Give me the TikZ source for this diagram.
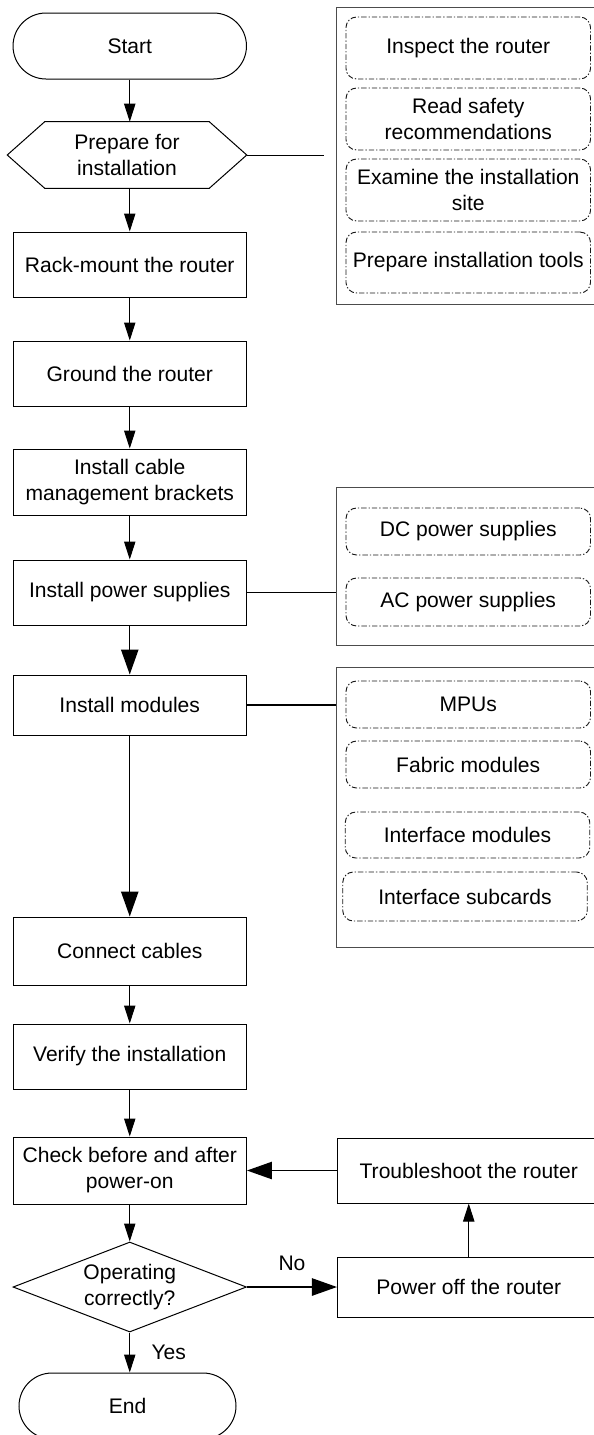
\documentclass[tikz,border=0pt]{standalone}
\usepackage{fontspec}
\setmainfont{Liberation Sans}
\usetikzlibrary{arrows.meta,shapes.geometric,shapes.misc}
\tikzset{
	every node/.style={font=\fontsize{15.8pt}{19.5pt}\selectfont, align=center, inner sep=0pt},
	stepbox/.style={draw, line width=0.75pt, minimum width=175.1pt, minimum height=48.75pt},
	sidebox/.style={draw, line width=0.75pt, minimum width=196.9pt, minimum height=48.75pt},
	termbox/.style={draw, line width=0.75pt, rounded rectangle, minimum width=175.1pt, minimum height=49.5pt},
	panel/.style={draw=black!70, line width=0.75pt, minimum width=198pt},
	subbox/.style={draw=black!90, dash pattern=on 4pt off 1.5pt on 1pt off 1.5pt, line width=0.7pt, rounded corners=8pt, minimum width=183.4pt, minimum height=46.5pt},
	arr/.style={line width=0.75pt, -{Triangle[length=13.5pt,width=8.5pt]}},
	bigarr/.style={line width=1.1pt, -{Triangle[length=18.75pt,width=13pt]}},
}
\begin{document}
\begin{tikzpicture}[x=0.75pt,y=-0.75pt]
	\useasboundingbox (0,0) rectangle (593,1435);
	% side panels
	\node[panel, minimum height=222.75pt] (pprep) at (468,155.5) {};
	\node[panel, minimum height=118.5pt] (ppower) at (468,566) {};
	\node[panel, minimum height=210pt] (pmod) at (468,807) {};
	\node[subbox] (inspect) at (468.25,48) {Inspect the router};
	\node[subbox] (safety) at (468.25,119) {Read safety\\recommendations};
	\node[subbox] (site) at (468.25,190) {Examine the installation\\site};
	\node[subbox, minimum height=45.75pt] (tools) at (468.25,262.5) {Prepare installation tools};
	\node[subbox, minimum height=35.25pt] (dcps) at (468.25,531.5) {DC power supplies};
	\node[subbox, minimum height=36pt] (acps) at (468.25,602) {AC power supplies};
	\node[subbox, minimum height=35.25pt] (mpus) at (468.25,704.5) {MPUs};
	\node[subbox, minimum height=35.25pt] (fabric) at (468.25,764.5) {Fabric modules};
	\node[subbox, minimum height=34.5pt] (ifmod) at (467.5,835) {Interface modules};
	\node[subbox, minimum height=36.75pt] (ifsub) at (465,896.5) {Interface subcards};
	% main flow
	\node[termbox] (start) at (129.75,46) {Start};
	\node[minimum width=179.25pt, minimum height=49.5pt] (prep) at (127,155) {Prepare for\\installation};
	\draw [line width=0.75pt] (prep.west)--([xshift=28.1pt]prep.north west)--([xshift=-28.1pt]prep.north east)--(prep.east)--([xshift=-28.1pt]prep.south east)--([xshift=28.1pt]prep.south west)--cycle;
	\node[stepbox] (rack) at (129.75,264.5) {Rack-mount the router};
	\node[stepbox] (ground) at (129.75,373.5) {Ground the router};
	\node[stepbox, minimum height=49.5pt] (cable) at (129.75,482) {Install cable\\management brackets};
	\node[stepbox] (power) at (129.75,592.5) {Install power supplies};
	\node[stepbox, minimum height=45pt] (modules) at (129.75,705) {Install modules};
	\node[stepbox, minimum height=51pt] (connect) at (129.75,951) {Connect cables};
	\node[stepbox] (verify) at (129.75,1056.5) {Verify the installation};
	\node[stepbox, minimum height=50.25pt] (check) at (129.75,1170.5) {Check before and after\\power-on};
	\node[draw, line width=0.75pt, diamond, aspect=2.6, minimum width=175.1pt, minimum height=67.5pt] (decide) at (129.75,1287) {Operating\\correctly?};
	\node[termbox, minimum width=162.75pt] (finish) at (127.5,1406) {End};
	\node[sidebox] (trouble) at (468.75,1170.5) {Troubleshoot the router};
	\node[sidebox, minimum height=45pt] (poweroff) at (468.75,1287) {Power off the router};
	\coordinate (prepend) at (324,155);
	% connectors
	\draw [arr] (start.south)--(start.south |- prep.north);
	\draw [arr] (rack.north |- prep.south)--(rack.north);
	\draw [arr] (rack)--(ground);
	\draw [arr] (ground)--(cable);
	\draw [arr] (cable)--(power);
	\draw [bigarr] (power)--(modules);
	\draw [bigarr] (modules)--(connect);
	\draw [arr] (connect)--(verify);
	\draw [arr] (verify)--(check);
	\draw [arr] (check)--(decide);
	\draw [arr] (decide.south)--(decide.south |- finish.north) node[midway, right, xshift=16pt] {Yes};
	\draw [bigarr] (decide.east)--(poweroff.west) node[midway, above, yshift=12pt] {No};
	\draw [arr] (poweroff)--(trouble);
	\draw [bigarr] (trouble.west)--(check.east);
	\draw [line width=0.75pt] (prep.east)--(prepend);
	\draw [line width=1.1pt] (power.east)--(power.east -| ppower.west);
	\draw [line width=1.1pt] (modules.east)--(modules.east -| pmod.west);
\end{tikzpicture}
\end{document}
